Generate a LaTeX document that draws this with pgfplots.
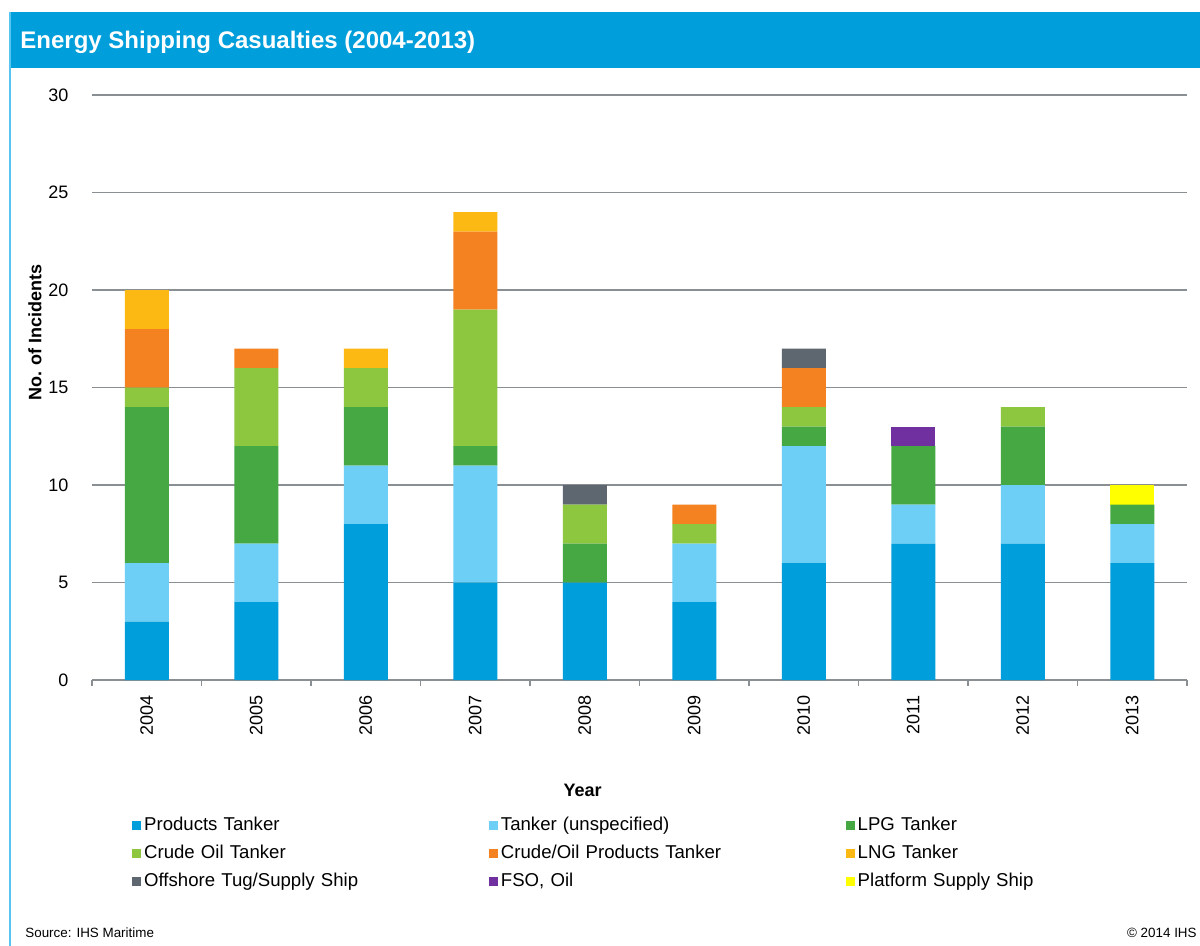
\documentclass[border=0pt]{standalone}
\usepackage{fontspec}
\setmainfont{Liberation Sans}
\usepackage{pgfplots}
\usepackage{pgfplotstable}
\pgfplotsset{compat=1.18}
\definecolor{cProd}{HTML}{009EDB}
\definecolor{cTank}{HTML}{6ECFF6}
\definecolor{cLPG}{HTML}{45A843}
\definecolor{cCrude}{HTML}{8DC63F}
\definecolor{cCOP}{HTML}{F58220}
\definecolor{cLNG}{HTML}{FDB913}
\definecolor{cOff}{HTML}{5E6770}
\definecolor{cFSO}{HTML}{7030A0}
\definecolor{cPSS}{HTML}{FFFF00}
\definecolor{cBar}{HTML}{009EDB}
\definecolor{cGrid}{HTML}{8A8F94}
\pgfplotstableread{
x P T L C CO LNG OFF FSO PS
0 3 3 8 1 3 2 0 0 0
1 4 3 5 4 1 0 0 0 0
2 8 3 3 2 0 1 0 0 0
3 5 6 1 7 4 1 0 0 0
4 5 0 2 2 0 0 1 0 0
5 4 3 0 1 1 0 0 0 0
6 6 6 1 1 2 0 1 0 0
7 7 2 3 0 0 0 0 1 0
8 7 3 3 1 0 0 0 0 0
9 6 2 1 0 0 0 0 0 1
}\data
\begin{document}
\begin{tikzpicture}
\path[use as bounding box, fill=white] (0,0) rectangle (600pt,-473pt);
\begin{scope}[x=0.5pt,y=-0.5pt]
\fill[cBar] (9,12) rectangle (1200,68);
\draw[color=cTank!80!cBar, line width=1pt] (10,12) -- (10,946);
\node[anchor=west, text=white, font=\bfseries\fontsize{12}{14}\selectfont, inner sep=0pt] at (20,42) {Energy Shipping Casualties (2004-2013)};
\node[anchor=west, font=\fontsize{6.7}{8}\selectfont, inner sep=0pt] at (25,933) {Source: IHS Maritime};
\node[anchor=east, font=\fontsize{6.7}{8}\selectfont, inner sep=0pt] at (1197,933) {© 2014 IHS};
\end{scope}
\begin{axis}[
  at={(46pt,-340pt)}, anchor=south west,
  scale only axis, width=547.5pt, height=292.5pt,
  ybar stacked, bar width=22pt,
  xmin=-0.5, xmax=9.5, ymin=0, ymax=30,
  xtick={0,...,9},
  xticklabels={2004,2005,2006,2007,2008,2009,2010,2011,2012,2013},
  minor xtick={-0.5,0.5,...,9.5},
  major x tick style={draw=none},
  minor x tick style={cGrid, line width=0.8pt},
  minor tick length=3pt,
  tick align=outside,
  ytick={0,5,...,30},
  y tick style={draw=none},
  ymajorgrids, grid style={cGrid, line width=0.6pt},
  separate axis lines,
  axis x line*=bottom, axis y line*=left,
  x axis line style={cGrid, line width=0.8pt, -},
  y axis line style={draw=none},
  /pgf/number format/assume math mode=true,
  tick label style={font=\fontsize{9}{11}\selectfont},
  xticklabel style={rotate=90, anchor=east, yshift=0pt},
  yticklabel style={xshift=-4pt},
  xlabel={Year}, ylabel={No. of Incidents},
  label style={font=\bfseries\fontsize{9}{11}\selectfont},
  xlabel style={at={(axis description cs:0.448,-0.188)}, anchor=center},
  ylabel style={at={(axis description cs:-0.052,0.594)}, anchor=center, rotate=0},
  legend columns=3,
  legend style={draw=none, fill=none, at={(axis description cs:0.031,-0.226)}, anchor=north west,
    font=\fontsize{9.3}{11}\selectfont,
    nodes={inner sep=0pt, text height=7pt, text depth=2pt, text width=171pt, align=left},
    row sep=5pt, column sep=1.5pt},
  legend image code/.code={\fill[#1] (0pt,-2.2pt) rectangle (4.4pt,2.2pt);},
]
\addplot[fill=cProd, draw=none] table[x=x,y=P]{\data};
\addplot[fill=cTank, draw=none] table[x=x,y=T]{\data};
\addplot[fill=cLPG, draw=none] table[x=x,y=L]{\data};
\addplot[fill=cCrude, draw=none] table[x=x,y=C]{\data};
\addplot[fill=cCOP, draw=none] table[x=x,y=CO]{\data};
\addplot[fill=cLNG, draw=none] table[x=x,y=LNG]{\data};
\addplot[fill=cOff, draw=none] table[x=x,y=OFF]{\data};
\addplot[fill=cFSO, draw=none] table[x=x,y=FSO]{\data};
\addplot[fill=cPSS, draw=none] table[x=x,y=PS]{\data};
\legend{Products Tanker, Tanker (unspecified), LPG Tanker, Crude Oil Tanker, Crude/Oil Products Tanker, LNG Tanker, Offshore Tug/Supply Ship, {FSO, Oil}, Platform Supply Ship}
\end{axis}
\end{tikzpicture}
\end{document}
